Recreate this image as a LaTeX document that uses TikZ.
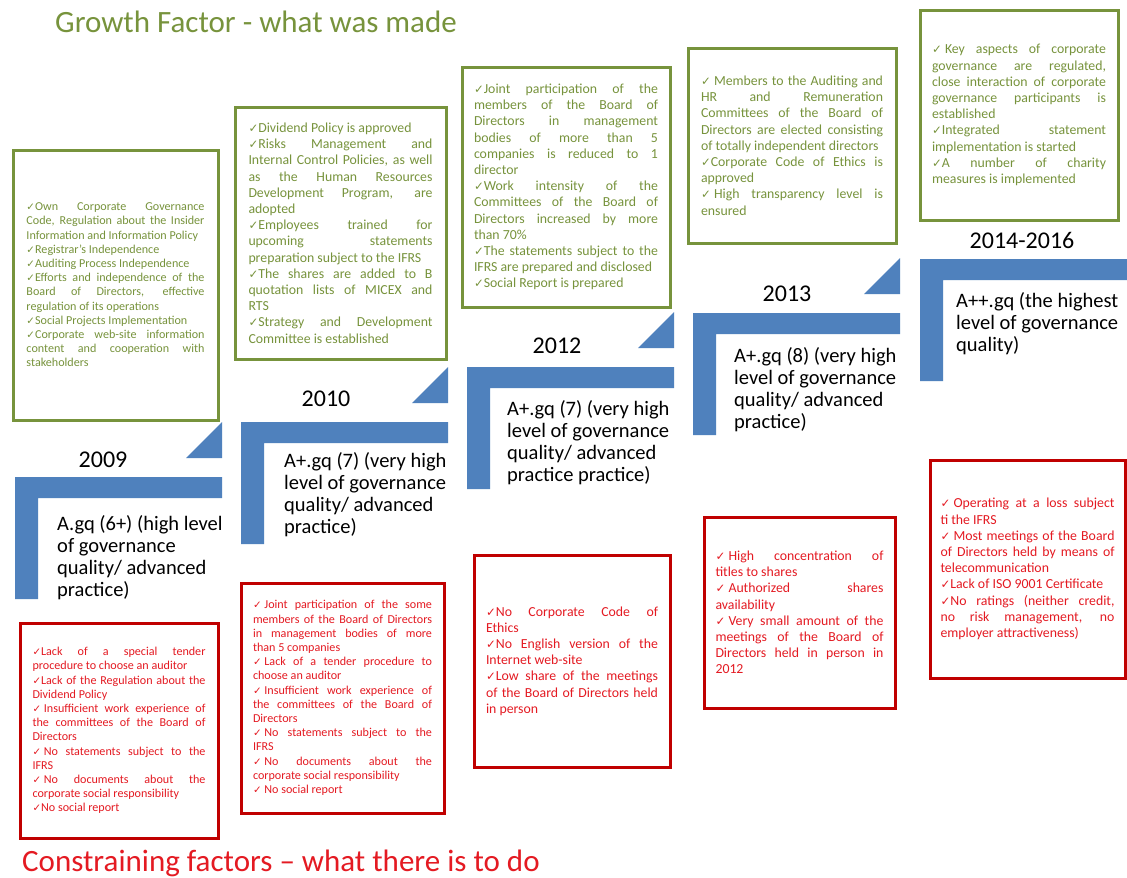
\documentclass[tikz,border=0pt]{standalone}
\usepackage{fontspec}
\setmainfont{Carlito}
\newfontfamily\ckfont[Scale=0.85]{DejaVu Sans}
\definecolor{growgreen}{HTML}{77933C}
\definecolor{lackred}{HTML}{C00000}
\definecolor{lacktext}{HTML}{E41A22}
\definecolor{stepblue}{HTML}{4F81BD}
\newcommand{\ok}{{\ckfont ✓}}
\newcommand{\oks}{{\ckfont ✓}\hspace{0.23em}}
\newcommand{\smalltxt}{\fontsize{12.1}{14.2}\selectfont}
\newcommand{\midtxt}{\fontsize{13.8}{16.2}\selectfont}
% justified box text, line breaks as in the slide
\newcommand{\boxpar}[3]{\parbox{#1pt}{#2\hyphenpenalty=10000 \exhyphenpenalty=10000
  \tolerance=10000 \hbadness=10000 #3}}

\begin{document}
\begin{tikzpicture}[x=1pt,y=-1pt,
  gbox/.style={draw=growgreen,line width=3pt,inner sep=0pt,text=growgreen},
  rbox/.style={draw=lackred,line width=3pt,inner sep=0pt,text=lacktext},
  yearlbl/.style={font=\fontsize{24}{29}\selectfont,inner sep=0pt},
  levellbl/.style={anchor=base west,inner sep=0pt,font=\fontsize{20.5}{22.2}\selectfont},
  stairs/.style={fill=stepblue}]
  \fill[white] (0,0) rectangle (1127,878);
  \path[use as bounding box] (0,0) rectangle (1127,878);

  \node[anchor=base west,inner sep=0pt,text=growgreen,font=\fontsize{31}{37}\selectfont]
    (growth) at (55,32) {Growth Factor - what was made};
  \node[anchor=base west,inner sep=0pt,text=lacktext,font=\fontsize{31}{37}\selectfont]
    (constr) at (22,871) {Constraining factors – what there is to do};

  % steps
  \fill[stairs] (15,477) -- ++(207,0) -- ++(0,21) -- ++(-184,0) -- ++(0,101) -- ++(-23,0) -- cycle;
  \fill[stairs] (241,422) -- ++(207,0) -- ++(0,21) -- ++(-184,0) -- ++(0,101) -- ++(-23,0) -- cycle;
  \fill[stairs] (467,367) -- ++(207,0) -- ++(0,21) -- ++(-184,0) -- ++(0,101) -- ++(-23,0) -- cycle;
  \fill[stairs] (693,313) -- ++(207,0) -- ++(0,21) -- ++(-184,0) -- ++(0,101) -- ++(-23,0) -- cycle;
  \fill[stairs] (920,259) -- ++(207,0) -- ++(0,21) -- ++(-184,0) -- ++(0,101) -- ++(-23,0) -- cycle;
  \fill[stairs] (186,458) -- (222,458) -- (222,422) -- cycle;
  \fill[stairs] (412,403) -- (448,403) -- (448,367) -- cycle;
  \fill[stairs] (638,348) -- (674,348) -- (674,312) -- cycle;
  \fill[stairs] (864,294) -- (900,294) -- (900,258) -- cycle;

  \node[yearlbl] (y2009) at (103,460) {2009};
  \node[yearlbl] (y2010) at (326,399) {2010};
  \node[yearlbl] (y2012) at (557,346) {2012};
  \node[yearlbl] (y2013) at (787,294) {2013};
  \node[yearlbl] (y2014) at (1022,240) {2014-2016};

  \node[levellbl] (lvl2009) at (57,530) {\parbox[t]{200pt}{A.gq (6+) (high level\\of governance\\quality/ advanced\\practice)}};
  \node[levellbl] (lvl2010) at (284,467) {\parbox[t]{200pt}{A+.gq (7) (very high\\level of governance\\quality/ advanced\\practice)}};
  \node[levellbl] (lvl2012) at (507,415) {\parbox[t]{200pt}{A+.gq (7) (very high\\level of governance\\quality/ advanced\\practice practice)}};
  \node[levellbl] (lvl2013) at (734,362) {\parbox[t]{200pt}{A+.gq (8) (very high\\level of governance\\quality/ advanced\\practice)}};
  \node[levellbl] (lvl2014) at (956,307) {\parbox[t]{200pt}{A++.gq (the highest\\level of governance\\quality)}};

  % what was made
  \node[gbox,minimum width=205,minimum height=270] (made2009) at (115.5,285) {\boxpar{178}{\smalltxt}{%
    \ok Own Corporate Governance\linebreak Code, Regulation about the Insider\linebreak Information and Information Policy\par
    \ok Registrar’s Independence\par
    \ok Auditing Process Independence\par
    \ok Efforts and independence of the\linebreak Board of Directors, effective\linebreak regulation of its operations\par
    \ok Social Projects Implementation\par
    \ok Corporate web-site information\linebreak content and cooperation with\linebreak stakeholders}};
  \node[gbox,minimum width=211,minimum height=252] (made2010) at (340.5,233) {\boxpar{184}{\midtxt}{%
    \ok Dividend Policy is approved\par
    \ok Risks Management and\linebreak Internal Control Policies, as well\linebreak as the Human Resources\linebreak Development Program, are\linebreak adopted\par
    \ok Employees trained for\linebreak upcoming statements\linebreak preparation subject to the IFRS\par
    \ok The shares are added to B\linebreak quotation lists of MICEX and\linebreak RTS\par
    \ok Strategy and Development\linebreak Committee is established}};
  \node[gbox,minimum width=208,minimum height=240] (made2012) at (566,187) {\boxpar{184}{\midtxt}{%
    \ok Joint participation of the\linebreak members of the Board of\linebreak Directors in management\linebreak bodies of more than 5\linebreak companies is reduced to 1\linebreak director\par
    \ok Work intensity of the\linebreak Committees of the Board of\linebreak Directors increased by more\linebreak than 70\%\par
    \ok The statements subject to the\linebreak IFRS are prepared and disclosed\par
    \ok Social Report is prepared}};
  \node[gbox,minimum width=208,minimum height=195] (made2013) at (792,145.5) {\boxpar{182}{\midtxt}{%
    \oks Members to the Auditing and\linebreak HR and Remuneration\linebreak Committees of the Board of\linebreak Directors are elected consisting\linebreak of totally independent directors\par
    \ok Corporate Code of Ethics is\linebreak approved\par
    \oks High transparency level is\linebreak ensured}};
  \node[gbox,minimum width=198,minimum height=210] (made2014) at (1019,115) {\boxpar{174}{\midtxt}{%
    \oks Key aspects of corporate\linebreak governance are regulated,\linebreak close interaction of corporate\linebreak governance participants is\linebreak established\par
    \ok Integrated statement\linebreak implementation is started\par
    \ok A number of charity\linebreak measures is implemented}};

  % what there is to do
  \node[rbox,minimum width=198,minimum height=215] (todo2009) at (119,730.5) {\boxpar{173}{\smalltxt}{%
    \ok Lack of a special tender\linebreak procedure to choose an auditor\par
    \ok Lack of the Regulation about the\linebreak Dividend Policy\par
    \oks Insufficient work experience of\linebreak the committees of the Board of\linebreak Directors\par
    \oks No statements subject to the\linebreak IFRS\par
    \oks No documents about the\linebreak corporate social responsibility\par
    \ok No social report}};
  \node[rbox,minimum width=203,minimum height=230] (todo2010) at (342.5,698) {\boxpar{179}{\smalltxt}{%
    \oks Joint participation of the some\linebreak members of the Board of Directors\linebreak in management bodies of more\linebreak than 5 companies\par
    \oks Lack of a tender procedure to\linebreak choose an auditor\par
    \oks Insufficient work experience of\linebreak the committees of the Board of\linebreak Directors\par
    \oks No statements subject to the\linebreak IFRS\par
    \oks No documents about the\linebreak corporate social responsibility\par
    \oks No social report}};
  \node[rbox,minimum width=196,minimum height=212] (todo2012) at (572,661) {\boxpar{172}{\midtxt}{%
    \ok No Corporate Code of\linebreak Ethics\par
    \ok No English version of the\linebreak Internet web-site\par
    \ok Low share of the meetings\linebreak of the Board of Directors held\linebreak in person}};
  \node[rbox,minimum width=191,minimum height=191] (todo2013) at (799.5,612.5) {\boxpar{168}{\midtxt}{%
    \oks High concentration of\linebreak titles to shares\par
    \oks Authorized shares\linebreak availability\par
    \oks Very small amount of the\linebreak meetings of the Board of\linebreak Directors held in person in\linebreak 2012}};
  \node[rbox,minimum width=195,minimum height=218] (todo2014) at (1027.5,569) {\boxpar{174}{\midtxt}{%
    \oks Operating at a loss subject\linebreak ti the IFRS\par
    \oks Most meetings of the Board\linebreak of Directors held by means of\linebreak telecommunication\par
    \ok Lack of ISO 9001 Certificate\par
    \ok No ratings (neither credit,\linebreak no risk management, no\linebreak employer attractiveness)}};
\end{tikzpicture}
\end{document}
